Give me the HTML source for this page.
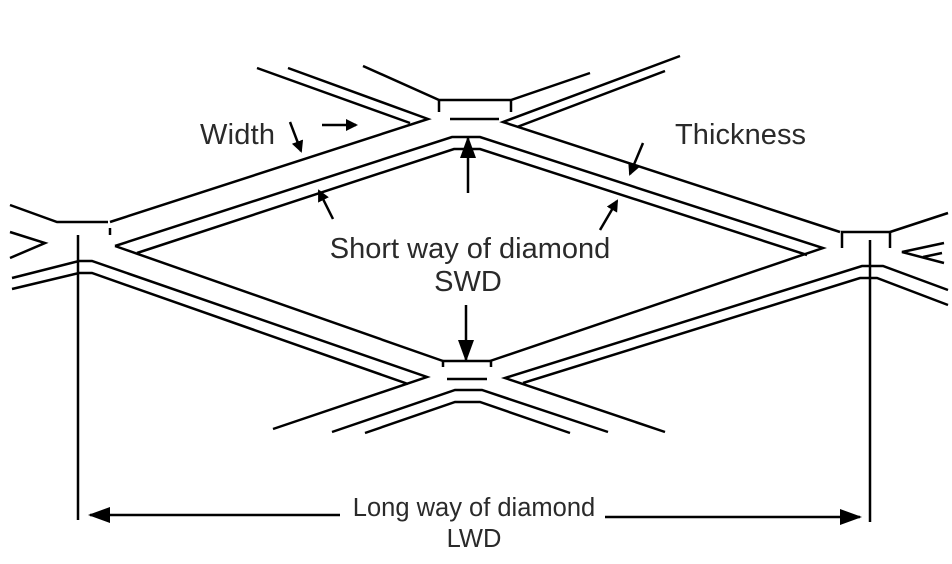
<!DOCTYPE html>
<html><head><style>html,body{margin:0;padding:0;background:#fff}svg{display:block}</style></head><body>
<svg width="952" height="564" viewBox="0 0 952 564" xmlns="http://www.w3.org/2000/svg">
<defs><marker id="a" markerWidth="12" markerHeight="12" refX="10" refY="6" orient="auto" markerUnits="userSpaceOnUse"><path d="M0,0 L12,6 L0,12 z" fill="#000"/></marker>
<marker id="b" markerWidth="22" markerHeight="16" refX="20" refY="8" orient="auto" markerUnits="userSpaceOnUse"><path d="M0,0 L22,8 L0,16 z" fill="#000"/></marker></defs>
<g fill="none" stroke="#000" stroke-width="2.5" stroke-linejoin="miter">
<polyline points="363,66 439,100 511,100 590,73"/>
<line x1="439" y1="100" x2="439" y2="112"/><line x1="511" y1="100" x2="511" y2="112"/>
<line x1="450" y1="119" x2="499" y2="119"/>
<polyline points="257,68 410,123"/>
<polyline points="288,68 428,119 110,222"/>
<polyline points="680,56 503,122 840,232"/>
<polyline points="665,71 517,127"/>
<polyline points="115,246 452,137 480,137 823,248 490,361"/>
<polyline points="137,253 454,149 480,149 807,255"/>
<polyline points="10,205 57,222 108,222"/>
<line x1="110" y1="228" x2="110" y2="235"/>
<polyline points="10,232 45,243 10,258"/>
<polyline points="12,278 79,261 92,261 427,377 273,429"/>
<polyline points="12,289 79,273 92,273 408,384"/>
<polyline points="115,246 443,361"/>
<polyline points="443,367 443,361 491,361 491,367"/>
<line x1="447" y1="379" x2="487" y2="379"/>
<polyline points="332,432 455,390 482,390 608,432"/>
<polyline points="365,433 455,402 480,402 570,433"/>
<polyline points="665,432 505,378 862,266 883,266 948,290"/>
<polyline points="523,383 860,278 877,278 948,305"/>
<polyline points="842,248 842,232 890,232 890,248"/>
<line x1="890" y1="232" x2="948" y2="213"/>
<polyline points="944,243 902,252 944,263"/>
<line x1="923" y1="257" x2="942" y2="253"/>
<line x1="78" y1="235" x2="78" y2="520"/>
<line x1="870" y1="240" x2="870" y2="522"/>
</g>
<g stroke="#000" stroke-width="2.5" fill="none">
<line x1="340" y1="515" x2="90" y2="515" marker-end="url(#b)"/>
<line x1="605" y1="517" x2="860" y2="517" marker-end="url(#b)"/>
<line x1="468" y1="193" x2="468" y2="138" marker-end="url(#b)"/>
<line x1="466" y1="305" x2="466" y2="360" marker-end="url(#b)"/>
<line x1="290" y1="122" x2="301" y2="151" marker-end="url(#a)"/>
<line x1="322" y1="125" x2="356" y2="125" marker-end="url(#a)"/>
<line x1="643" y1="143" x2="630" y2="174" marker-end="url(#a)"/>
<line x1="333" y1="219" x2="319" y2="191" marker-end="url(#a)"/>
<line x1="600" y1="230" x2="617" y2="201" marker-end="url(#a)"/>
</g>
<g font-family="Liberation Sans, sans-serif" fill="#2a2a2a" font-size="29">
<text x="200" y="144" textLength="75">Width</text>
<text x="675" y="144" textLength="131">Thickness</text>
<text x="470" y="258" text-anchor="middle">Short way of diamond</text>
<text x="468" y="291" text-anchor="middle">SWD</text>
<text x="474" y="516" text-anchor="middle" font-size="25.5">Long way of diamond</text>
<text x="474" y="547" text-anchor="middle" font-size="25.5">LWD</text>
</g>
</svg>
</body></html>
